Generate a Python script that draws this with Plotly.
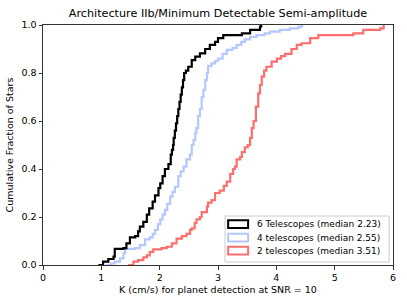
import plotly.graph_objects as go

# ---- data (K in cm/s, cumulative fraction) ----
k_six = [0.95, 1.03, 1.12, 1.21, 1.23, 1.38, 1.43, 1.49, 1.58, 1.63, 1.66, 1.72, 1.78,
         1.82, 1.88, 1.92, 1.98, 2.01, 2.05, 2.09, 2.15, 2.19, 2.21, 2.23, 2.24, 2.26,
         2.28, 2.30, 2.32, 2.34, 2.36, 2.38, 2.40, 2.42, 2.45, 2.49, 2.55, 2.61, 2.69,
         2.78, 2.86, 2.95, 3.00, 3.09, 3.41, 3.55, 3.72, 3.74]
f_six = [0.0, 0.014, 0.025, 0.035, 0.067, 0.07, 0.09, 0.115, 0.12, 0.14, 0.16, 0.18, 0.21,
         0.236, 0.264, 0.29, 0.32, 0.34, 0.37, 0.40, 0.42, 0.46, 0.48, 0.50, 0.53, 0.56,
         0.59, 0.62, 0.65, 0.68, 0.71, 0.74, 0.77, 0.80, 0.81, 0.826, 0.854, 0.868, 0.882,
         0.90, 0.917, 0.93, 0.945, 0.958, 0.965, 0.98, 0.993, 1.0]

k_four = [1.09, 1.17, 1.23, 1.32, 1.38, 1.41, 1.58, 1.66, 1.75, 1.83, 1.88, 1.92, 1.97,
          2.01, 2.05, 2.09, 2.13, 2.18, 2.22, 2.26, 2.32, 2.36, 2.41, 2.46, 2.52, 2.55,
          2.58, 2.61, 2.63, 2.66, 2.69, 2.72, 2.75, 2.78, 2.81, 2.83, 2.89, 2.95, 3.00,
          3.08, 3.15, 3.25, 3.32, 3.40, 3.46, 3.55, 3.66, 3.80, 3.89, 4.06, 4.23, 4.38, 4.44]
f_four = [0.0, 0.007, 0.014, 0.028, 0.049, 0.067, 0.07, 0.083, 0.107, 0.115, 0.13, 0.146, 0.17,
          0.19, 0.21, 0.23, 0.255, 0.285, 0.305, 0.326, 0.37, 0.39, 0.41, 0.44, 0.46, 0.50,
          0.52, 0.55, 0.57, 0.62, 0.65, 0.70, 0.73, 0.77, 0.80, 0.83, 0.84, 0.85, 0.86,
          0.88, 0.896, 0.905, 0.917, 0.93, 0.94, 0.95, 0.958, 0.965, 0.972, 0.98, 0.986, 0.993, 1.0]

k_two = [1.46, 1.55, 1.63, 1.72, 1.78, 1.83, 1.89, 2.03, 2.12, 2.21, 2.29, 2.38, 2.46,
         2.52, 2.55, 2.60, 2.63, 2.69, 2.72, 2.81, 2.83, 2.89, 2.95, 3.03, 3.10, 3.15,
         3.21, 3.26, 3.29, 3.32, 3.38, 3.41, 3.46, 3.51, 3.55, 3.58, 3.61, 3.65, 3.69,
         3.72, 3.75, 3.79, 3.83, 3.92, 4.01, 4.08, 4.15, 4.26, 4.35, 4.43, 4.58, 4.72,
         5.32, 5.49, 5.78, 5.84]
f_two = [0.0, 0.014, 0.02, 0.032, 0.04, 0.055, 0.065, 0.07, 0.076, 0.09, 0.11, 0.12, 0.13,
         0.146, 0.153, 0.175, 0.19, 0.20, 0.22, 0.243, 0.26, 0.27, 0.30, 0.31, 0.33, 0.347,
         0.38, 0.40, 0.41, 0.44, 0.45, 0.47, 0.49, 0.50, 0.53, 0.57, 0.60, 0.66, 0.715,
         0.75, 0.785, 0.81, 0.826, 0.847, 0.86, 0.87, 0.88, 0.90, 0.917, 0.924, 0.945, 0.958,
         0.965, 0.98, 0.986, 1.0]

series_names = ["6 Telescopes (median 2.23)", "4 telescopes (median 2.55)", "2 telescopes (median 3.51)"]
series_colors = ["#000000", "#b4c8ff", "#ff6e6e"]
x_ticks = [0, 1, 2, 3, 4, 5, 6]
y_ticks = [0.0, 0.2, 0.4, 0.6, 0.8, 1.0]

FONT = "DejaVu Sans"

fig = go.Figure()
# draw red first, then blue, then black on top
for kx, fy, name, col in zip([k_two, k_four, k_six], [f_two, f_four, f_six],
                             series_names[::-1], series_colors[::-1]):
    fig.add_trace(go.Scatter(x=kx, y=fy, mode="lines", name=name,
                             line=dict(color=col, width=2.2, shape="hv"),
                             showlegend=False))

# manual legend (matplotlib style with rectangle handles)
fig.add_shape(type="rect", xref="paper", yref="paper", x0=0.52, x1=0.989, y0=0.0125, y1=0.204,
              line=dict(color="#cccccc", width=1), fillcolor="rgba(255,255,255,0.8)", layer="above")
row_y = [0.170, 0.114, 0.060]
for yy, name, col in zip(row_y, series_names, series_colors):
    fig.add_shape(type="rect", xref="paper", yref="paper", x0=0.529, x1=0.586,
                  y0=yy - 0.016, y1=yy + 0.016, line=dict(color=col, width=2),
                  fillcolor="rgba(255,255,255,0)", layer="above")
    fig.add_annotation(xref="paper", yref="paper", x=0.606, y=yy, text=name, showarrow=False,
                       xanchor="left", yanchor="middle", font=dict(family=FONT, size=9, color="#000"))

fig.update_layout(
    width=407, height=305,
    margin=dict(l=43, r=14, t=25, b=40),
    paper_bgcolor="white", plot_bgcolor="white",
    font=dict(family=FONT, size=9.5, color="#000"),
    title=dict(text="Architecture IIb/Minimum Detectable Semi-amplitude",
               x=(43 + 393) / 2 / 407, xanchor="center", y=1 - 13 / 305, yanchor="middle",
               font=dict(family=FONT, size=11.2, color="#000")),
    showlegend=False,
)
fig.update_xaxes(range=[0, 6], tickvals=x_ticks, ticktext=[str(v) for v in x_ticks],
                 automargin=False,
                 showgrid=False, zeroline=False, showline=True, mirror=True,
                 linecolor="#333", linewidth=1, ticks="outside", ticklen=3.5, tickcolor="#333",
                 tickfont=dict(family=FONT, size=9.5),
                 title=dict(text="K (cm/s) for planet detection at SNR = 10", standoff=4,
                            font=dict(family=FONT, size=9.5)))
fig.update_yaxes(range=[0, 1], tickvals=y_ticks, ticktext=[f"{v:.1f}" for v in y_ticks],
                 automargin=False,
                 showgrid=False, zeroline=False, showline=True, mirror=True,
                 linecolor="#333", linewidth=1, ticks="outside", ticklen=3.5, tickcolor="#333",
                 tickfont=dict(family=FONT, size=9.5),
                 title=dict(text="Cumulative Fraction of Stars", standoff=6,
                            font=dict(family=FONT, size=9.5)))

fig.write_html("out.html",
               config={"displayModeBar": False, "staticPlot": True},
               post_script="document.body.style.margin='0';document.body.style.padding='0';"
                           "document.documentElement.style.overflow='hidden';")
